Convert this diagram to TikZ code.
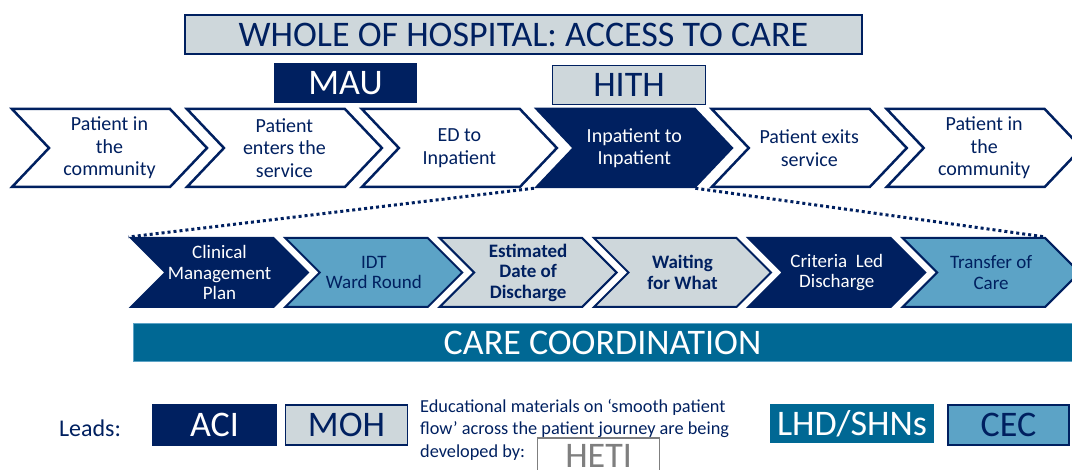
\documentclass[tikz,border=0pt]{standalone}
\usepackage{fontspec}
\setmainfont{Carlito}
\usetikzlibrary{positioning,shapes.symbols}

\definecolor{navy}{RGB}{0,32,96}
\definecolor{mist}{RGB}{206,215,219}
\definecolor{sky}{RGB}{92,163,198}
\definecolor{ocean}{RGB}{0,104,148}
\definecolor{ash}{RGB}{127,127,127}

\begin{document}
\begin{tikzpicture}[x=1pt,y=-1pt,
    stage/.style={signal, signal to=east, signal from=west, signal pointer angle=93,
      draw=navy, line width=2.5pt, fill=white, text=navy, inner sep=0pt,
      minimum width=195pt, minimum height=78pt, align=center,
      font=\fontsize{20}{22.5}\selectfont},
    task/.style={signal, signal to=east, signal from=west, signal pointer angle=90,
      draw=navy, line width=2pt, text=navy, inner sep=0pt,
      minimum width=177pt, minimum height=69pt, align=center,
      font=\fontsize{19}{20.5}\selectfont},
    tag/.style={rectangle, draw=navy, line width=1.5pt, inner sep=0pt,
      font=\fontsize{36}{40}\selectfont},
    dots/.style={navy, line width=3pt, dash pattern=on 3pt off 3pt}]
  \useasboundingbox (0,0) rectangle (1072,470);
  \clip (0,0) rectangle (1072,470);

  % headings
  \node[tag, fill=mist, text=navy, minimum width=677pt, minimum height=39pt] (whole) at (523.5,34.5) {WHOLE OF HOSPITAL: ACCESS TO CARE};
  \node[tag, fill=navy, text=white, minimum width=142pt, minimum height=38pt] (mau) at (345.5,83) {MAU};
  \node[tag, fill=mist, text=navy, minimum width=153pt, minimum height=39pt] (hith) at (629,85) {HITH};

  % patient journey
  \node[stage] (home) at (109.5,148) {Patient in\\the\\community};
  \node[stage] (enter) [right=13.5pt of home] {Patient\\enters the\\service};
  \node[stage] (edin) [right=13.5pt of enter] {ED to\\Inpatient};
  \node[stage, fill=navy, text=white] (inpat) [right=13.5pt of edin] {Inpatient to\\Inpatient};
  \node[stage] (exits) [right=13.5pt of inpat] {Patient exits\\service};
  \node[stage] (back) [right=13.5pt of exits] {Patient in\\the\\community};

  % inpatient steps
  \node[task, fill=navy, text=white] (plan) at (219.5,272.5) {Clinical\\Management\\Plan};
  \node[task, fill=sky] (round) [right=9pt of plan] {IDT\\Ward Round};
  \node[task, fill=mist, font=\fontsize{19}{20.5}\selectfont\bfseries] (edd) [right=9pt of round] {Estimated\\Date of\\Discharge};
  \node[task, fill=mist, font=\fontsize{19}{20.5}\selectfont\bfseries] (wait) [right=9pt of edd] {Waiting\\for What};
  \node[task, fill=navy, text=white] (cld) [right=9pt of wait] {Criteria~ Led\\Discharge};
  \node[task, fill=sky] (handover) [right=9pt of cld] {Transfer of\\Care};

  \draw[dots] (inpat.south west) -- (plan.north west);
  \draw[dots] (inpat.south east) -- (handover.north east);

  \node[tag, draw=sky, line width=1pt, fill=ocean, text=white, minimum width=939pt, minimum height=38pt] (coord) at (602.5,342.5) {CARE COORDINATION};

  % leads
  \node[text=navy, anchor=base, font=\fontsize{24}{28}\selectfont] (leads) at (90,437) {Leads:};
  \node[tag, fill=navy, text=white, minimum width=123pt, minimum height=40pt] (aci) at (214.5,425) {ACI};
  \node[tag, fill=mist, text=navy, minimum width=122pt, minimum height=40pt] (moh) [right=8pt of aci] {MOH};
  \node[text=navy, anchor=north west, align=left, inner sep=0pt,
    font=\fontsize{18.3}{22.4}\selectfont] (edu) at (420,399)
    {Educational materials on `smooth patient\\flow' across the patient journey are being\\developed by:};
  \node[tag, draw=ash, fill=white, text=ash, minimum width=122pt, minimum height=36pt] (heti) at (598.6,456) {HETI};
  \node[tag, draw=ocean, fill=ocean, text=white, minimum width=162pt, minimum height=37pt] (lhd) at (852,423.5) {LHD/SHNs};
  \node[tag, fill=sky, text=navy, minimum width=121pt, minimum height=40pt] (cec) at (1008.5,425) {CEC};
\end{tikzpicture}
\end{document}
